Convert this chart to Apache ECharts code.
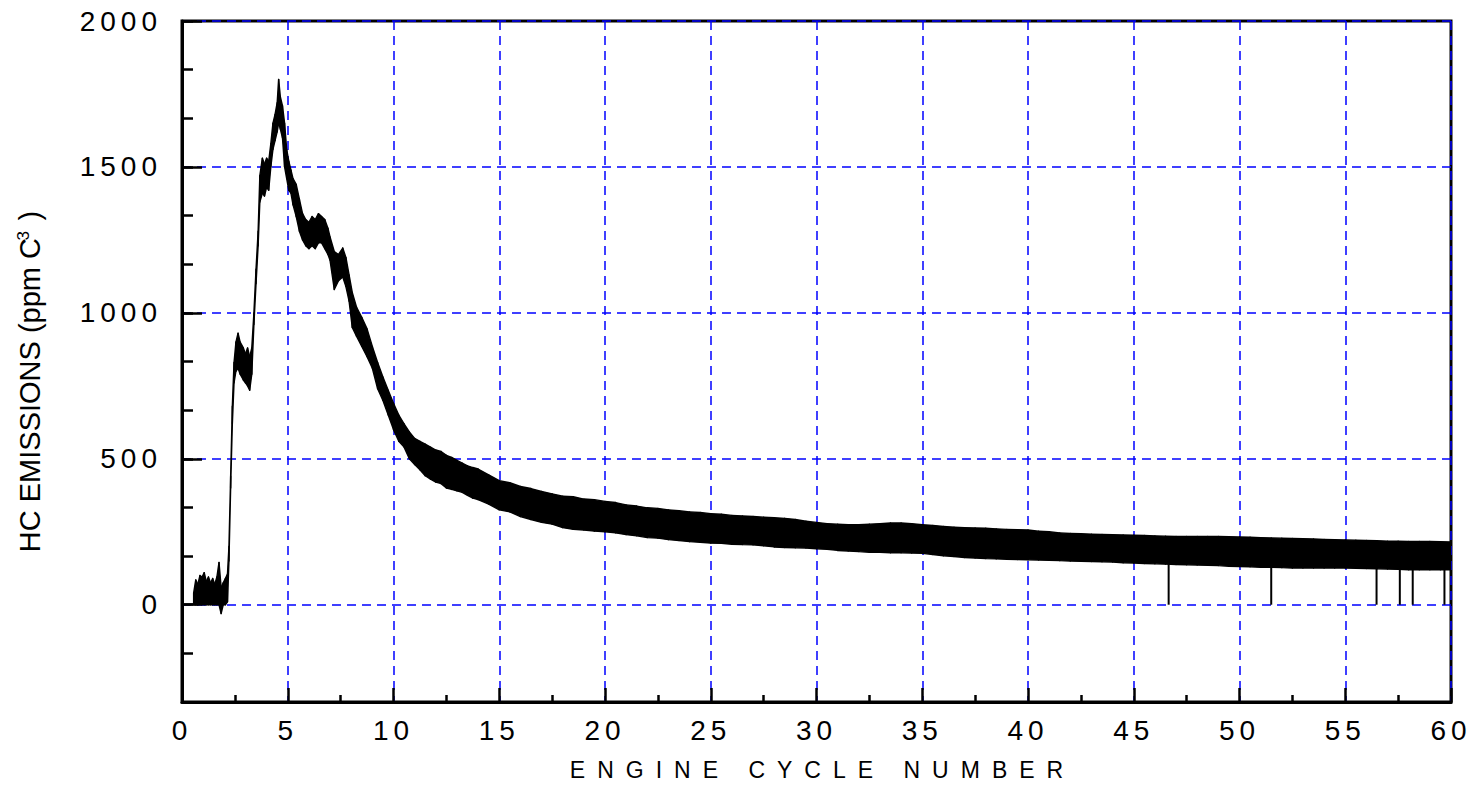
<!DOCTYPE html>
<html>
<head>
<meta charset="utf-8">
<script src="https://cdn.jsdelivr.net/npm/echarts@6/dist/echarts.min.js"></script>
<style>
  html, body { margin: 0; padding: 0; background: #fff; }
  #chart { width: 1474px; height: 793px; }
</style>
</head>
<body>
<div id="chart"></div>
<script>
// Engine cycle positions of the sampled HC trace
const cycle = [
  0.55, 0.65, 0.75, 0.85, 0.95, 1.05, 1.15, 1.25, 1.35, 1.45, 1.55, 1.65, 1.75, 1.85, 1.95, 2.05, 2.15,
  2.22, 2.3, 2.38, 2.46, 2.55, 2.65, 2.75, 2.9, 3.0, 3.1, 3.2, 3.3, 3.4, 3.5, 3.6, 3.68, 3.8, 3.9,
  4.0, 4.1, 4.2, 4.3, 4.4, 4.5, 4.57, 4.65, 4.75, 4.85, 4.95, 5.05, 5.15, 5.25, 5.4, 5.55, 5.7, 5.85,
  6.0, 6.15, 6.3, 6.45, 6.6, 6.75, 6.9, 7.0, 7.2, 7.4, 7.6, 7.75, 7.9, 8.05, 8.25, 8.5, 8.75,
  9.0, 9.25, 9.5, 9.75, 10.0, 10.25, 10.5, 10.75, 11.0, 11.25, 11.5, 11.75, 12.0, 12.25, 12.5, 12.75,
  13.0, 13.25, 13.5, 13.75, 14.0, 14.5, 15.0, 15.5, 16.0, 16.5, 17.0, 17.5, 18.0, 18.5, 19.0, 19.5,
  20.0, 20.5, 21.0, 21.5, 22.0, 22.5, 23.0, 23.5, 24.0, 24.5, 25.0, 25.5, 26.0, 26.5, 27.0, 27.5,
  28.0, 28.5, 29.0, 29.5, 30.0, 30.5, 31.0, 31.5, 32.0, 32.5, 33.0, 33.5, 34.0, 34.5, 35.0, 35.5,
  36.0, 36.5, 37.0, 37.5, 38.0, 38.5, 39.0, 39.5, 40.0, 40.5, 41.0, 41.5, 42.0, 42.5, 43.0, 43.5,
  44.0, 44.5, 45.0, 45.5, 46.0, 46.5, 47.0, 47.5, 48.0, 48.5, 49.0, 49.5, 50.0, 50.5, 51.0, 51.5,
  52.0, 52.5, 53.0, 53.5, 54.0, 54.5, 55.0, 55.5, 56.0, 56.5, 57.0, 57.5, 58.0, 58.5, 59.0, 59.5, 60.0
];

// Upper edge of the cycle-to-cycle scatter (ppm C3)
const hcUpper = [
  40, 85, 70, 100, 95, 110, 80, 95, 75, 90, 70, 95, 145, 60, 75, 90, 105,
  200, 440, 680, 830, 900, 930, 900, 880, 860, 880, 850, 880, 1000, 1150, 1280, 1470, 1530, 1510,
  1530, 1520, 1580, 1650, 1680, 1720, 1800, 1740, 1710, 1650, 1560, 1520, 1490, 1460, 1440, 1390, 1340, 1320,
  1310, 1330, 1320, 1340, 1330, 1320, 1290, 1260, 1210, 1200, 1222, 1190, 1130, 1070, 1020, 985, 945,
  885, 830, 780, 735, 690, 650, 620, 592, 570, 560, 550, 540, 530, 525, 512, 505,
  495, 485, 476, 470, 465, 445, 425, 418, 405, 398, 388, 380, 372, 370, 362, 360,
  354, 350, 342, 338, 332, 330, 325, 322, 318, 316, 312, 310, 306, 304, 302, 300,
  298, 296, 292, 286, 282, 278, 276, 274, 274, 276, 278, 280, 280, 278, 274, 272,
  268, 266, 264, 263, 262, 260, 258, 257, 256, 252, 250, 246, 244, 243, 242, 241,
  240, 239, 238, 237, 236, 235, 234, 234, 234, 234, 234, 233, 232, 231, 230, 229,
  228, 227, 226, 225, 224, 223, 222, 221, 220, 219, 218, 218, 217, 217, 217, 216, 215
];

// Lower edge of the cycle-to-cycle scatter (ppm C3)
const hcLower = [
  0, 0, 0, 5, 0, 0, 0, 0, 0, 0, 0, 0, 0, -30, 0, 0, 10,
  150, 400, 620, 760, 800, 810, 790, 770, 760, 750, 735, 790, 960, 1100, 1230, 1380, 1410, 1400,
  1430, 1420, 1500, 1560, 1590, 1620, 1650, 1630, 1600, 1500, 1460, 1420, 1410, 1370, 1330, 1280, 1250, 1230,
  1220, 1230, 1220, 1240, 1240, 1220, 1200, 1180, 1080, 1110, 1123, 1090, 1040, 950, 920, 885, 850,
  810, 740, 700, 650, 600, 560, 540, 500, 480, 462, 442, 430, 420, 415, 400, 395,
  390, 385, 375, 365, 360, 345, 325, 318, 302, 292, 282, 276, 264, 258, 256, 252,
  250, 246, 240, 236, 230, 228, 223, 220, 216, 214, 211, 210, 207, 206, 205, 202,
  198, 196, 195, 194, 192, 190, 186, 184, 182, 180, 180, 178, 178, 177, 176, 172,
  168, 165, 162, 160, 158, 157, 156, 155, 154, 153, 152, 151, 150, 149, 148, 147,
  146, 144, 143, 141, 140, 139, 138, 137, 136, 135, 134, 132, 131, 130, 128, 128,
  127, 126, 126, 126, 126, 126, 126, 125, 124, 123, 122, 121, 120, 120, 120, 120, 120
];

// Single-cycle readings that fall to zero
const dropoutCycle = [46.65, 51.5, 56.48, 57.58, 58.19, 59.69];
const dropoutTop = [139, 128, 123, 121, 120, 120];

// Axis ranges and labelled ticks
const xTickStep = 5;
const yLabelValues = [0, 500, 1000, 1500, 2000];
const yMin = -1000 / 3;
const yMax = 2000;
const yMinorStep = 500 / 3;

// One segment of the scatter band per pair of neighbouring samples
const bandSegments = cycle.slice(0, -1).map((c, i) => [
  c, hcUpper[i], hcLower[i], cycle[i + 1], hcUpper[i + 1], hcLower[i + 1]
]);
const dropoutData = dropoutCycle.map((c, i) => [c, dropoutTop[i]]);

const FONT = "'Liberation Sans', Arial, sans-serif";
const GRID_BLUE = '#0000ff';

function renderBand(params, api) {
  const p1 = api.coord([api.value(0), api.value(1)]);
  const p2 = api.coord([api.value(3), api.value(4)]);
  const p3 = api.coord([api.value(3), api.value(5)]);
  const p4 = api.coord([api.value(0), api.value(2)]);
  return {
    type: 'polygon',
    shape: { points: [p1, p2, p3, p4] },
    style: { fill: '#000', stroke: '#000', lineWidth: 1.4, lineJoin: 'round' }
  };
}

const chart = echarts.init(document.getElementById('chart'), null, { renderer: 'svg' });

chart.setOption({
  animation: false,
  backgroundColor: '#ffffff',
  grid: {
    left: 182, right: 23, top: 21, bottom: 91,
    show: true, borderColor: '#000', borderWidth: 3, backgroundColor: 'transparent'
  },
  xAxis: {
    type: 'value',
    min: 0, max: 60, interval: xTickStep,
    name: 'ENGINE CYCLE NUMBER',
    nameLocation: 'middle',
    nameGap: 56,
    nameTextStyle: { fontFamily: FONT, fontSize: 23, color: '#000', padding: [0, 0, 0, 12] },
    axisLine: { show: true, onZero: false, lineStyle: { color: '#000', width: 3 } },
    axisTick: { show: true, inside: true, length: 14, lineStyle: { color: '#000', width: 2.5 } },
    minorTick: { show: true, splitNumber: 2, length: 7, lineStyle: { color: '#000', width: 2.5 } },
    axisLabel: { fontFamily: FONT, fontSize: 28, color: '#000', margin: 14, formatter: v => String(v) },
    splitLine: { show: true, lineStyle: { color: GRID_BLUE, width: 1.5, type: [9, 6] } }
  },
  yAxis: [
    {
      type: 'value',
      min: yMin, max: yMax, interval: yMinorStep,
      position: 'left',
      axisLine: { show: true, onZero: false, lineStyle: { color: '#000', width: 3 } },
      axisTick: { show: true, inside: true, length: 11, lineStyle: { color: '#000', width: 2.5 } },
      axisLabel: { show: false },
      splitLine: { show: false }
    },
    {
      type: 'value',
      min: yMin, max: yMax,
      position: 'left',
      name: 'HC EMISSIONS (ppm C{s|3} )',
      nameLocation: 'middle',
      nameGap: 138,
      nameTextStyle: {
        fontFamily: FONT, fontSize: 29, color: '#000',
        padding: [0, 40, 0, 0],
        rich: { s: { fontFamily: FONT, fontSize: 17, color: '#000', verticalAlign: 'top', lineHeight: 29 } }
      },
      axisLine: { show: false },
      axisTick: { show: true, inside: true, length: 20, customValues: yLabelValues, lineStyle: { color: '#000', width: 2.5 } },
      axisLabel: { fontFamily: FONT, fontSize: 28, color: '#000', margin: 20, customValues: yLabelValues, formatter: v => String(Math.round(v)) },
      splitLine: { show: true, lineStyle: { color: GRID_BLUE, width: 1.5, type: [9, 6] } }
    }
  ],
  series: [
    {
      name: 'HC emissions',
      type: 'custom',
      yAxisIndex: 0,
      renderItem: renderBand,
      data: bandSegments,
      encode: { x: [0, 3], y: [1, 2, 4, 5] },
      clip: true,
      z: 3
    },
    {
      name: 'Dropouts',
      type: 'bar',
      yAxisIndex: 0,
      data: dropoutData,
      barWidth: 2,
      itemStyle: { color: '#000' },
      z: 3
    }
  ]
});

// Wide letter spacing on the tick labels and the horizontal axis title
function spaceLetters() {
  document.querySelectorAll('#chart svg text').forEach(t => {
    const s = t.textContent.trim();
    if (/^-?\d+$/.test(s)) t.style.letterSpacing = '5px';
    else if (s === 'ENGINE CYCLE NUMBER') t.style.letterSpacing = '12px';
  });
}
chart.on('finished', spaceLetters);
setTimeout(spaceLetters, 50);
</script>
</body>
</html>
